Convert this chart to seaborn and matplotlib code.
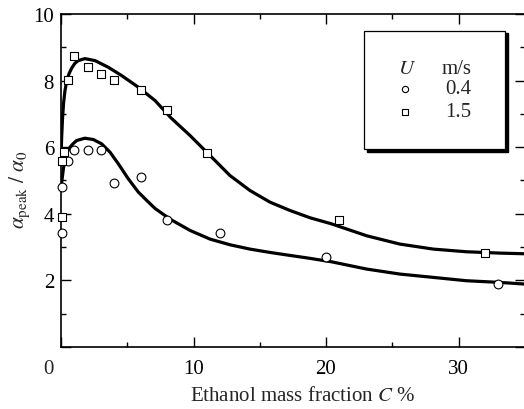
import matplotlib
matplotlib.use("Agg")
import matplotlib.pyplot as plt
import seaborn as sns
from matplotlib.patches import Rectangle
from matplotlib.ticker import MultipleLocator

# measured points, U = 0.4 m/s (circles)
c_lo = [0.05, 0.05, 0.5, 1.0, 2.0, 3.0, 4.0, 6.0, 8.0, 12.0, 20.0, 33.0]
a_lo = [3.41, 4.81, 5.6, 5.92, 5.92, 5.92, 4.92, 5.12, 3.81, 3.41, 2.71, 1.89]

# measured points, U = 1.5 m/s (squares)
c_hi = [0.05, 0.05, 0.25, 0.5, 1.0, 2.0, 3.0, 4.0, 6.0, 8.0, 11.0, 21.0, 32.0]
a_hi = [3.91, 5.6, 5.87, 8.02, 8.73, 8.42, 8.21, 8.02, 7.73, 7.13, 5.82, 3.81, 2.81]

# fitted curves
fit_lo_c = [0.0, 0.05, 0.18, 0.3, 0.5, 0.68, 0.9, 1.18, 1.8, 2.44, 3.07, 3.7,
            4.33, 5.08, 5.84, 6.6, 7.1, 8.23, 9.74, 11.25, 12.75, 14.26, 15.77,
            17.28, 18.5, 20.4, 23.07, 25.58, 28.1, 30.6, 33.1, 35.0]
fit_lo_a = [4.8, 4.94, 5.35, 5.65, 5.88, 6.0, 6.1, 6.2, 6.27, 6.23, 6.1, 5.85,
            5.5, 5.05, 4.65, 4.35, 4.16, 3.84, 3.5, 3.24, 3.07, 2.94, 2.84,
            2.75, 2.68, 2.56, 2.34, 2.19, 2.09, 1.99, 1.94, 1.89]

fit_hi_c = [0.0, 0.05, 0.12, 0.2, 0.3, 0.43, 0.6, 0.8, 1.05, 1.3, 1.8, 2.57,
            3.57, 4.58, 5.84, 7.1, 8.3, 9.74, 11.25, 12.75, 14.26, 15.77, 17.28,
            18.8, 20.4, 23.07, 25.58, 28.1, 30.6, 33.1, 35.0]
fit_hi_a = [5.65, 6.3, 6.9, 7.35, 7.7, 7.98, 8.2, 8.37, 8.52, 8.6, 8.66, 8.6,
            8.4, 8.15, 7.8, 7.4, 6.88, 6.35, 5.75, 5.15, 4.7, 4.35, 4.1,
            3.88, 3.7, 3.34, 3.09, 2.94, 2.86, 2.82, 2.8]

legend_labels = ["0.4", "1.5"]

sns.set_theme(style="ticks")
plt.rcParams["font.family"] = ["Liberation Serif", "DejaVu Serif"]
plt.rcParams["mathtext.fontset"] = "stix"

FS = 15

fig = plt.figure(figsize=(5.24, 4.10), dpi=100)
ax = fig.add_axes([61 / 524, 62 / 410, 463.75 / 524, 333 / 410])

sns.lineplot(x=fit_lo_c, y=fit_lo_a, sort=False, estimator=None,
             color="black", lw=2.3, ax=ax)
sns.lineplot(x=fit_hi_c, y=fit_hi_a, sort=False, estimator=None,
             color="black", lw=2.3, ax=ax)
sns.scatterplot(x=c_lo, y=a_lo, marker="o", s=40, facecolor="white",
                edgecolor="black", linewidth=0.8, clip_on=False, zorder=3, ax=ax)
sns.scatterplot(x=c_hi, y=a_hi, marker="s", s=40, facecolor="white",
                edgecolor="black", linewidth=0.8, clip_on=False, zorder=3, ax=ax)

ax.set_xlim(0, 35)
ax.set_ylim(0, 10)
ax.xaxis.set_major_locator(MultipleLocator(10))
ax.xaxis.set_minor_locator(MultipleLocator(5))
ax.yaxis.set_major_locator(MultipleLocator(2))
ax.yaxis.set_minor_locator(MultipleLocator(1))
ax.set_xticks([0, 10, 20, 30])
ax.set_xticklabels(["", "10", "20", "30"])
ax.set_yticks([0, 2, 4, 6, 8, 10])
ax.set_yticklabels(["", "2", "4", "6", "8", "10"])
ax.tick_params(which="both", direction="in", top=True, right=True,
               labelsize=FS, width=1.0, colors="black")
ax.tick_params(which="major", length=7)
ax.tick_params(which="minor", length=3.5)
ax.tick_params(axis="x", which="major", pad=9)
ax.tick_params(axis="y", which="major", pad=5)
for sp in ax.spines.values():
    sp.set_linewidth(1.2)
    sp.set_color("black")
ax.text(-0.028, -0.066, "0", transform=ax.transAxes, fontsize=FS,
        ha="center", va="center")

ax.set_xlabel(r"Ethanol mass fraction $C$ %", fontsize=FS)
ax.xaxis.label.set_verticalalignment("center")
ax.xaxis.set_label_coords(0.521, -0.146)
ax.set_ylabel(r"$\alpha_{\rm peak}\ /\ \alpha_0$", fontsize=15.5)
ax.yaxis.label.set_verticalalignment("center")
ax.yaxis.set_label_coords(-0.09, 0.474)

# legend box with a drop shadow
bx, by, bw, bh = 0.654, 0.595, 0.303, 0.355
ax.add_patch(Rectangle((bx + 0.006, by - 0.008), bw, bh, transform=ax.transAxes,
                       facecolor="black", edgecolor="black", zorder=4))
ax.add_patch(Rectangle((bx, by), bw, bh, transform=ax.transAxes,
                       facecolor="white", edgecolor="black", lw=0.9, zorder=5))
ax.text(0.745, 0.835, r"$U$", transform=ax.transAxes, fontsize=FS,
        ha="center", va="center", zorder=6)
ax.text(0.853, 0.835, "m/s", transform=ax.transAxes, fontsize=FS,
        ha="center", va="center", zorder=6)
for lab, mk, yy in zip(legend_labels, ["o", "s"], [0.775, 0.706]):
    ax.plot([0.742], [yy], marker=mk, ms=4.5, mfc="white", mec="black",
            mew=0.8, transform=ax.transAxes, zorder=6, clip_on=False)
    ax.text(0.856, yy, lab, transform=ax.transAxes, fontsize=FS,
            ha="center", va="center", zorder=6)

fig.savefig("out.png", dpi=100)
